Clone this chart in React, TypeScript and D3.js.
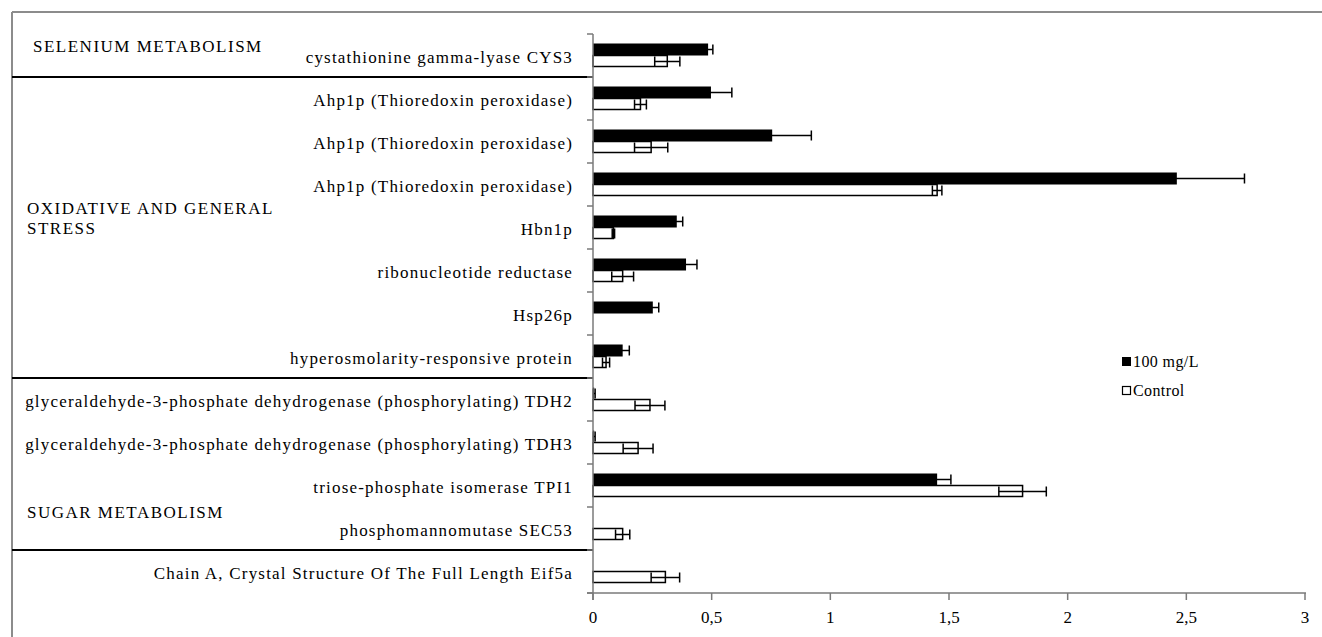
import React from "react";
import * as d3 from "d3";

const categories = [
  "cystathionine gamma-lyase CYS3",
  "Ahp1p (Thioredoxin peroxidase)",
  "Ahp1p (Thioredoxin peroxidase) ",
  "Ahp1p (Thioredoxin peroxidase)  ",
  "Hbn1p",
  "ribonucleotide reductase",
  "Hsp26p",
  "hyperosmolarity-responsive protein",
  "glyceraldehyde-3-phosphate dehydrogenase (phosphorylating) TDH2",
  "glyceraldehyde-3-phosphate dehydrogenase (phosphorylating) TDH3",
  "triose-phosphate isomerase TPI1",
  "phosphomannomutase SEC53",
  "Chain A, Crystal Structure Of The Full Length Eif5a",
];

const treated = [0.485, 0.497, 0.755, 2.46, 0.353, 0.392, 0.252, 0.125, 0.005, 0.005, 1.45, 0, 0];
const treatedErr = [0.02, 0.088, 0.165, 0.285, 0.025, 0.046, 0.025, 0.028, 0.004, 0.004, 0.058, 0, 0];
const control = [0.313, 0.2, 0.245, 1.45, 0.086, 0.125, 0, 0.055, 0.24, 0.19, 1.81, 0.125, 0.305];
const controlErr = [0.053, 0.025, 0.07, 0.02, 0.005, 0.046, 0, 0.015, 0.063, 0.063, 0.1, 0.03, 0.06];

const xTicks = [0, 0.5, 1, 1.5, 2, 2.5, 3];
const seriesNames = ["100 mg/L", "Control"];

const groupLabels = [["SELENIUM METABOLISM"], ["OXIDATIVE AND GENERAL", "STRESS"], ["SUGAR METABOLISM"]];
const groupAnchor = [0, 4, 11];
const groupBoundaries = [1, 8, 12];

const FONT = "'Liberation Serif', 'Times New Roman', serif";

export default function App() {
  const W = 1322;
  const H = 637;
  const x = d3.scaleLinear().domain([0, 3]).range([593, 1305]);
  const y = d3.scaleBand<number>().domain(d3.range(categories.length)).range([34, 593]).padding(0);
  const bw = y.bandwidth();
  const barH = 12;
  const capH = 10;
  const fmt = (v: number) => String(v).replace(".", ",");

  const errBar = (cx: number, cy: number, v: number, e: number, key: string) => {
    if (e <= 0) return null;
    const x0 = x(v - e);
    const x1 = x(v + e);
    return (
      <g key={key} stroke="#000" strokeWidth={1.5}>
        <line x1={x0} x2={x1} y1={cy} y2={cy} />
        <line x1={x0} x2={x0} y1={cy - capH / 2} y2={cy + capH / 2} />
        <line x1={x1} x2={x1} y1={cy - capH / 2} y2={cy + capH / 2} />
      </g>
    );
  };

  const groupX = [33, 27, 27];
  const groupDy = [18, 8, 11];

  return (
    <svg width={W} height={H} style={{ position: "absolute", left: 0, top: 0, background: "#fff" }} fontFamily={FONT}>
      <rect x={0} y={0} width={W} height={H} fill="#fff" />
      <line x1={12} x2={W} y1={12} y2={12} stroke="#8c8c8c" strokeWidth={2} />
      <line x1={12} x2={12} y1={12} y2={H} stroke="#8c8c8c" strokeWidth={2} />

      {groupBoundaries.map((b, i) => (
        <line key={"sep" + i} x1={12} x2={593} y1={y(b) as number} y2={y(b) as number} stroke="#000" strokeWidth={2} />
      ))}

      {groupLabels.map((lines, i) => {
        const cy = y(groupAnchor[i]) as number;
        return (
          <text key={"g" + i} x={groupX[i]} y={cy + groupDy[i]} fontSize={17} letterSpacing={1.5} fill="#000">
            {lines.map((l, j) => (
              <tspan key={j} x={groupX[i]} dy={j === 0 ? 0 : 20}>
                {l}
              </tspan>
            ))}
          </text>
        );
      })}

      {categories.map((c, i) => (
        <text
          key={"c" + i}
          x={573}
          y={(y(i) as number) + bw / 2 + 7}
          textAnchor="end"
          fontSize={17}
          letterSpacing={1.2}
          fill="#000"
        >
          {c.trim()}
        </text>
      ))}

      {categories.map((_, i) => {
        const cy = (y(i) as number) + bw / 2;
        return (
          <g key={"b" + i}>
            <rect x={x(0)} y={cy - barH} width={x(treated[i]) - x(0)} height={barH} fill="#000" />
            {control[i] > 0 && (
              <rect
                x={x(0)}
                y={cy}
                width={x(control[i]) - x(0)}
                height={barH - 1}
                fill="#fff"
                stroke="#000"
                strokeWidth={1.5}
              />
            )}
            {errBar(x(treated[i]), cy - barH / 2, treated[i], treatedErr[i], "et" + i)}
            {errBar(x(control[i]), cy + barH / 2, control[i], controlErr[i], "ec" + i)}
          </g>
        );
      })}

      <line x1={593} x2={593} y1={34} y2={600} stroke="#7a7a7a" strokeWidth={1.5} />
      {d3.range(categories.length + 1).map((i) => {
        const yy = i < categories.length ? (y(i) as number) : 593;
        return <line key={"yt" + i} x1={587} x2={593} y1={yy} y2={yy} stroke="#7a7a7a" strokeWidth={1.5} />;
      })}

      <line x1={587} x2={1306} y1={593} y2={593} stroke="#7a7a7a" strokeWidth={1.5} />
      {xTicks.map((t) => (
        <g key={"xt" + t}>
          <line x1={x(t)} x2={x(t)} y1={593} y2={600} stroke="#7a7a7a" strokeWidth={1.5} />
          <text x={x(t)} y={623} textAnchor="middle" fontSize={17} fill="#000">
            {fmt(t)}
          </text>
        </g>
      ))}

      <rect x={1122} y={357} width={9} height={9} fill="#000" />
      <text x={1133} y={367} fontSize={16} letterSpacing={0.4} fill="#000">{seriesNames[0]}</text>
      <rect x={1122.5} y={386.5} width={8} height={8} fill="#fff" stroke="#000" strokeWidth={1.2} />
      <text x={1133} y={396} fontSize={16} letterSpacing={0.4} fill="#000">{seriesNames[1]}</text>
    </svg>
  );
}
